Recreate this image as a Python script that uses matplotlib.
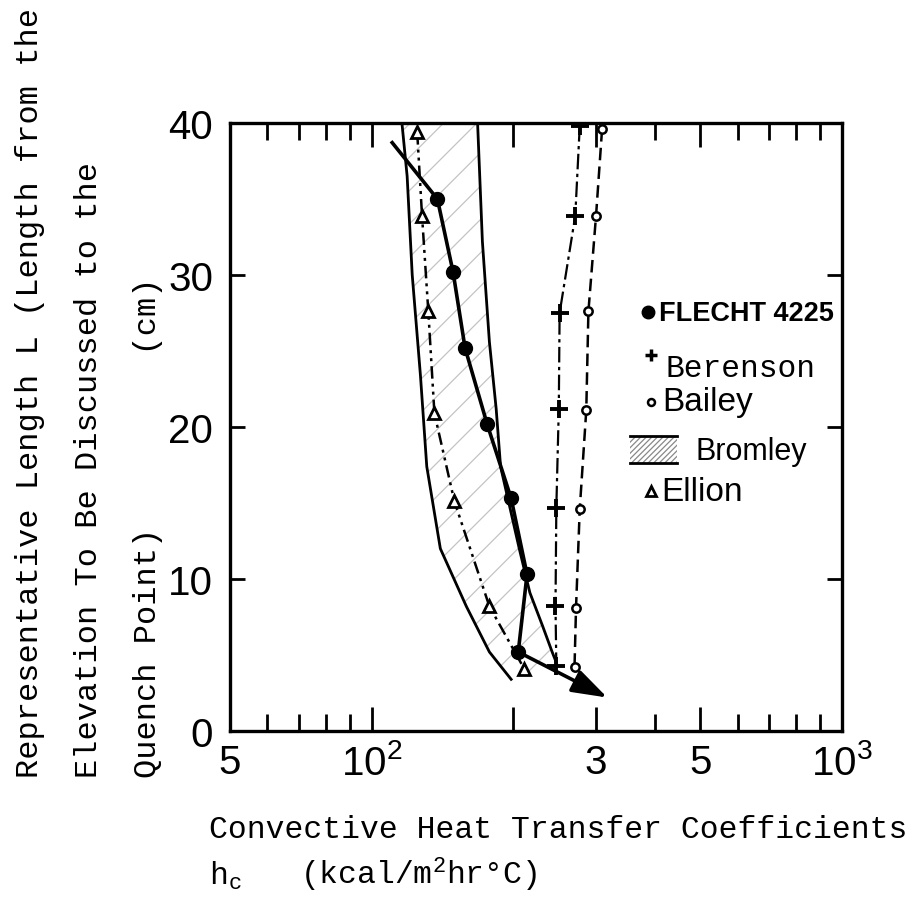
import matplotlib
matplotlib.use("Agg")
import matplotlib.pyplot as plt
from matplotlib.patches import Polygon, Rectangle
from matplotlib.lines import Line2D

plt.rcParams['mathtext.fontset'] = 'custom'
plt.rcParams['mathtext.sf'] = 'Liberation Sans'
plt.rcParams['mathtext.tt'] = 'Liberation Mono'
plt.rcParams['mathtext.rm'] = 'Liberation Sans'
plt.rcParams['hatch.linewidth'] = 0.9

# ---------------- data ----------------
# FLECHT 4225 (filled circles, solid line)
flecht_x = [138, 149, 158, 176, 198, 214, 205]
flecht_y = [35.0, 30.2, 25.2, 20.2, 15.3, 10.3, 5.2]
flecht_start_x = [110]
flecht_start_y = [38.8]
flecht_arrow_x = [317]
flecht_arrow_y = [2.2]

# Berenson (plus, dash-dot)
berenson_x = [277, 271, 251, 250, 247, 246, 247]
berenson_y = [39.8, 33.9, 27.5, 21.2, 14.7, 8.2, 4.3]

# Bailey (small open circles, dashed)
bailey_x = [309, 300, 289, 286, 277, 272, 270]
bailey_y = [39.6, 33.9, 27.6, 21.1, 14.6, 8.1, 4.2]

# Ellion (open triangles, dash-dot-dot)
ellion_x = [125, 128, 132, 136, 150, 178, 211]
ellion_y = [39.4, 33.9, 27.6, 20.9, 15.1, 8.2, 4.1]

# Bromley band (left and right bounding curves)
bromley_left_x = [116, 119, 122, 127, 131, 140, 159, 178, 198]
bromley_left_y = [40.0, 36.5, 30.0, 23.4, 17.4, 12.0, 8.2, 5.2, 3.4]
bromley_right_x = [168, 172, 178, 184, 188, 206, 217, 231, 242, 247]
bromley_right_y = [40.0, 32.2, 25.6, 21.2, 17.4, 12.0, 9.1, 6.9, 5.2, 4.5]

x_major = [50, 100, 200, 300, 500, 1000]
x_major_labels = ['5', r'$\mathsf{10^2}$', '', '3', '5', r'$\mathsf{10^3}$']
x_minor = [60, 70, 80, 90, 400, 600, 700, 800, 900]
y_ticks = [0, 10, 20, 30, 40]
y_tick_labels = ['0', '10', '20', '30', '40']

# ---------------- figure ----------------
W, H = 914, 920
fig = plt.figure(figsize=(W / 100, H / 100), dpi=100)
ax = fig.add_axes([230 / W, 1 - 732 / H, (842 - 230) / W, (732 - 124) / H])
ax.set_xscale('log')
ax.set_xlim(50, 1000)
ax.set_ylim(0, 40)

def fx(px):
    return px / W

def fy(py):
    return 1 - py / H

# Bromley hatched band
poly_pts = list(zip(bromley_left_x, bromley_left_y)) + list(zip(bromley_right_x[::-1], bromley_right_y[::-1]))
band = Polygon(poly_pts, closed=True, facecolor='none', edgecolor='#c4c4c4', linewidth=0,
               hatch='/', zorder=1)
ax.add_patch(band)
ax.plot(bromley_left_x, bromley_left_y, color='black', lw=2.0, zorder=2)
ax.plot(bromley_right_x, bromley_right_y, color='black', lw=2.0, zorder=2)

# Ellion
ax.plot(ellion_x, ellion_y, color='black', lw=1.8, linestyle=(0, (5, 2, 1.2, 2, 1.2, 2)),
        marker='^', markersize=9, markerfacecolor='white', markeredgewidth=2.0, zorder=3)

# Berenson
ax.plot(berenson_x, berenson_y, color='black', lw=1.6, linestyle=(0, (7, 2, 1.5, 2)),
        marker='+', markersize=13, markeredgewidth=2.8, zorder=3)

# Bailey
ax.plot(bailey_x, bailey_y, color='black', lw=1.8, linestyle=(0, (5, 2.5)),
        marker='o', markersize=6, markerfacecolor='white', markeredgewidth=1.8, zorder=3)

# FLECHT 4225
path_x = flecht_start_x + flecht_x + flecht_arrow_x
path_y = flecht_start_y + flecht_y + flecht_arrow_y
ax.plot(path_x[:-1], path_y[:-1], color='black', lw=2.6, zorder=4, solid_capstyle='butt')
ax.plot(flecht_x, flecht_y, linestyle='none', marker='o', markersize=10, color='black', zorder=5)
ax.annotate('', xy=(path_x[-1], path_y[-1]), xytext=(path_x[-2], path_y[-2]),
            arrowprops=dict(arrowstyle='-|>,head_length=1.2,head_width=0.4', lw=2.6,
                            color='black', shrinkA=0, shrinkB=0, mutation_scale=18), zorder=5)

# ---------------- axes styling ----------------
for s in ax.spines.values():
    s.set_linewidth(2.4)
ax.set_xticks(x_major)
ax.set_xticklabels(x_major_labels)
ax.set_xticks(x_minor, minor=True)
ax.set_xticklabels([], minor=True)
ax.set_yticks(y_ticks)
ax.set_yticklabels(y_tick_labels)
ax.tick_params(axis='x', which='major', direction='in', length=17, width=2.0, top=True, bottom=True, pad=9,
               labelsize=29)
ax.tick_params(axis='x', which='minor', direction='in', length=12, width=2.0, top=True, bottom=True)
ax.tick_params(axis='y', which='major', direction='in', length=11, width=2.0, left=True, right=True, pad=12,
               labelsize=29)
ax.tick_params(axis='y', which='minor', left=False, right=False)
for lab in ax.get_xticklabels() + ax.get_yticklabels():
    lab.set_fontfamily('Liberation Sans')

# ---------------- legend (drawn as text) ----------------
def mark(px, py, **kw):
    fig.add_artist(Line2D([fx(px)], [fy(py)], transform=fig.transFigure, color='black', **kw))

mark(648, 313, marker='o', markersize=9)
fig.text(fx(659), fy(314), 'FLECHT 4225', fontsize=19.5, family='Liberation Sans', ha='left', va='center',
         fontweight='bold')
mark(651, 356, marker='+', markersize=8, markeredgewidth=2.5)
fig.text(fx(666), fy(369), 'Berenson', fontsize=22.5, family='Liberation Mono', ha='left', va='center')
mark(651, 403, marker='o', markersize=5, markerfacecolor='white', markeredgewidth=1.8)
fig.text(fx(662), fy(403), 'Bailey', fontsize=24, family='Liberation Sans', ha='left', va='center')
leg_rect = Rectangle((fx(630), fy(464)), fx(677) - fx(630), fy(437) - fy(464), transform=fig.transFigure,
                     facecolor='white', edgecolor='#888888', linewidth=0, hatch='//////')
fig.add_artist(leg_rect)
fig.add_artist(Line2D([fx(630), fx(677)], [fy(437), fy(437)], transform=fig.transFigure, color='black', lw=2))
fig.add_artist(Line2D([fx(630), fx(677)], [fy(464), fy(464)], transform=fig.transFigure, color='black', lw=2))
fig.text(fx(695), fy(452), 'Bromley', fontsize=22, family='Liberation Sans', ha='left', va='center')
mark(651, 492, marker='^', markersize=7, markerfacecolor='white', markeredgewidth=2.0)
fig.text(fx(661), fy(493), 'Ellion', fontsize=24, family='Liberation Sans', ha='left', va='center')

# ---------------- axis titles ----------------
ylab_kw = dict(fontsize=23, family='Liberation Mono', rotation=90, ha='center', va='bottom')
fig.text(fx(30), fy(778), 'Representative Length L (Length from the', **ylab_kw)
fig.text(fx(89), fy(778), 'Elevation To Be Discussed to the', **ylab_kw)
fig.text(fx(148), fy(778), 'Quench Point)         (cm)', **ylab_kw)

fig.text(fx(209), fy(830), 'Convective Heat Transfer Coefficients', fontsize=22.6,
         family='Liberation Mono', ha='left', va='center')
fig.text(fx(209), fy(885), r'$\mathtt{h_c}$', fontsize=22.6, family='Liberation Mono', ha='left', va='baseline')
fig.text(fx(300), fy(885), r'(kcal/$\mathtt{m^2}$hr°C)', fontsize=22.6, family='Liberation Mono',
         ha='left', va='baseline')

fig.savefig('out.png', dpi=100, facecolor='white')
